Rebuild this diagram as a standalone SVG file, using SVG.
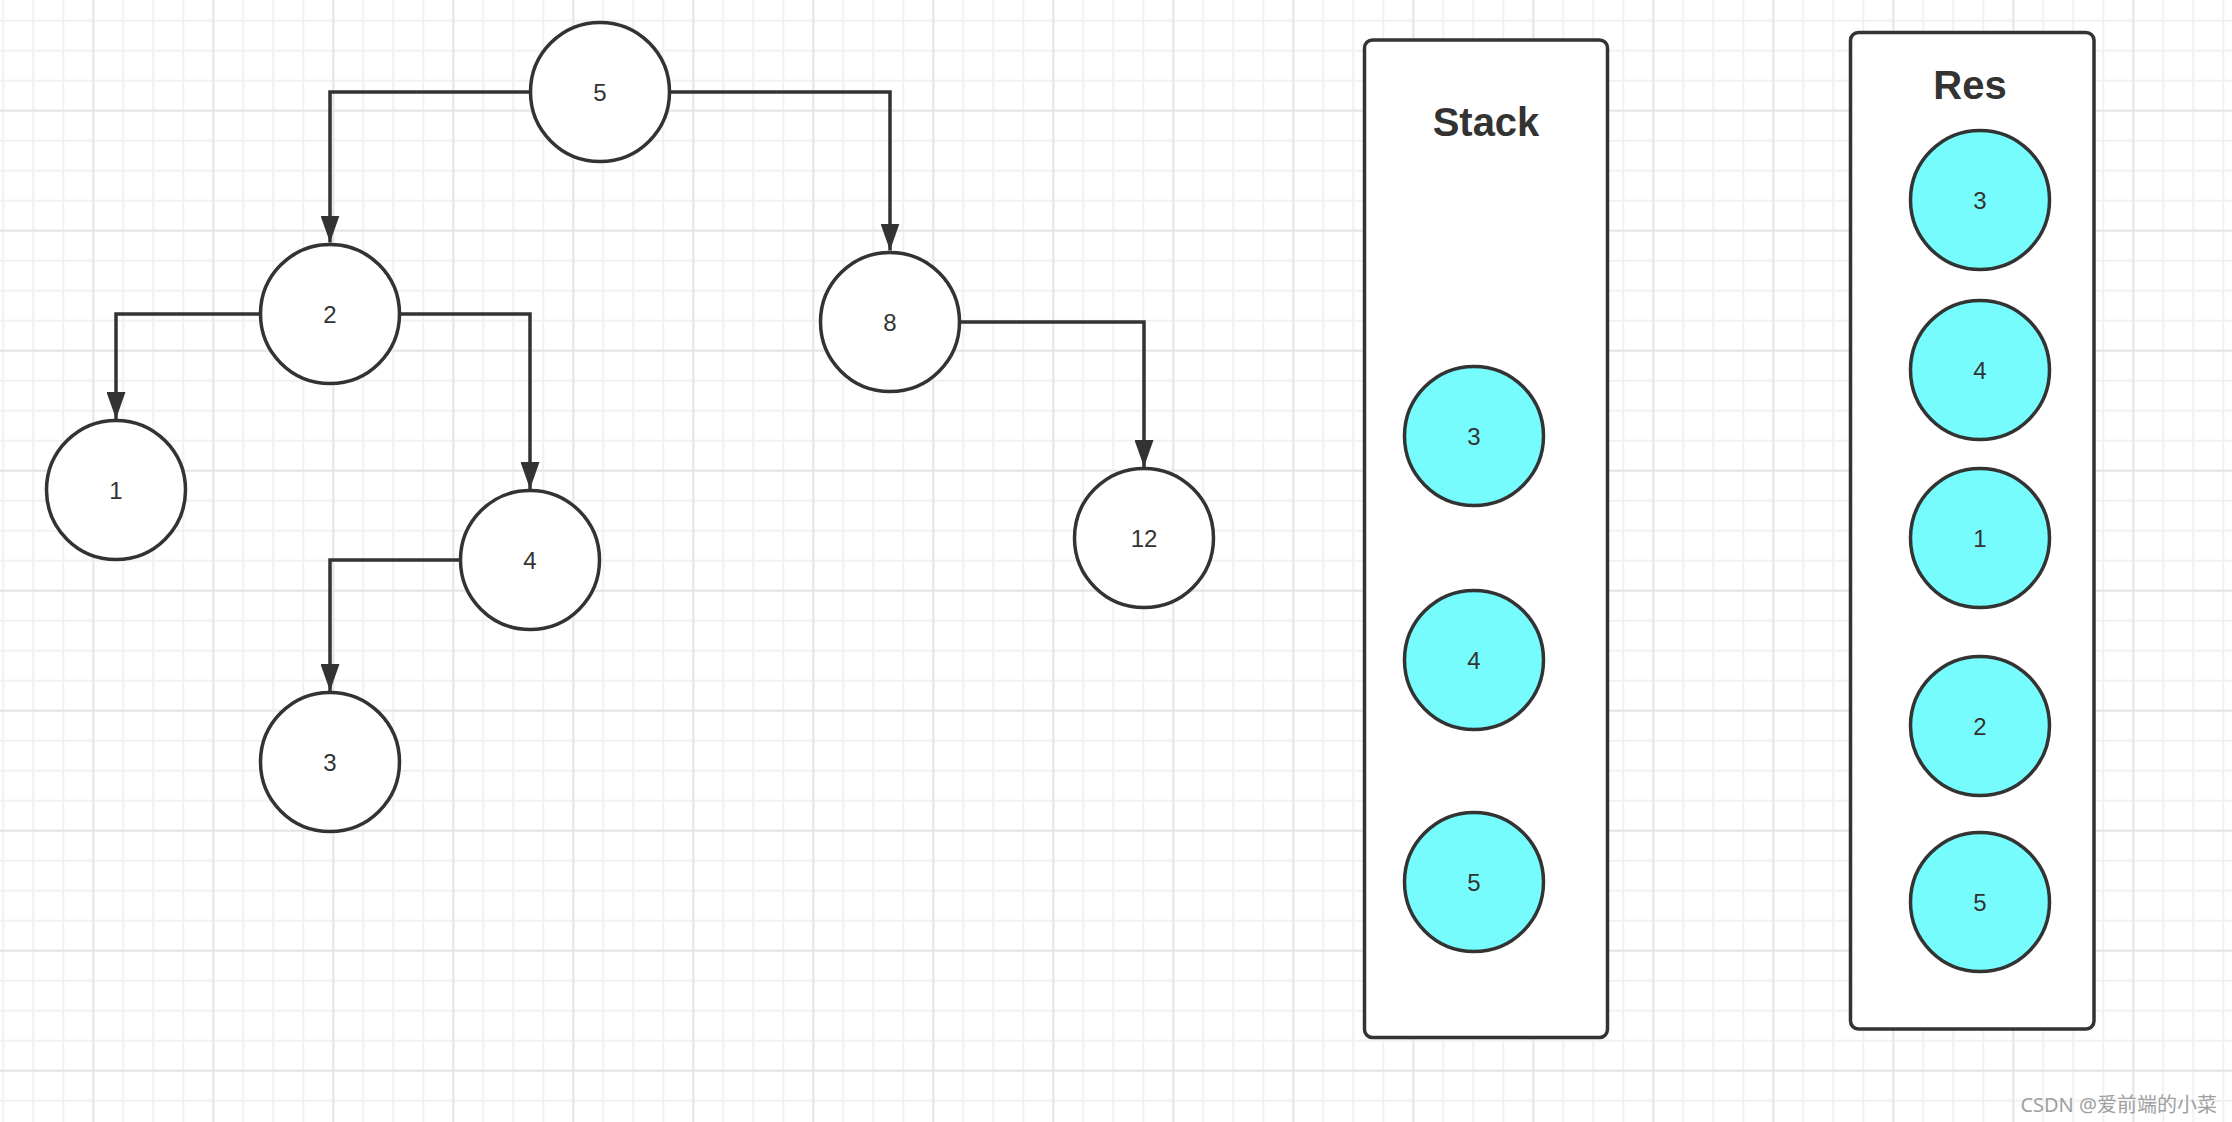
<svg xmlns="http://www.w3.org/2000/svg" width="2232" height="1122" viewBox="0 0 2232 1122">
<style>
.node circle{fill:#ffffff;stroke:#333333;stroke-width:3.5}
.node.hl circle{fill:#76fcfc}
.lbl{font-family:"Liberation Sans",Arial,sans-serif;font-size:24px;fill:#333333;text-anchor:middle}
.title{font-family:"Liberation Sans",Arial,sans-serif;font-size:40px;font-weight:bold;fill:#333333;text-anchor:middle}
.box{fill:#ffffff;stroke:#333333;stroke-width:3.5}
.edge{fill:none;stroke:#333333;stroke-width:3.5;marker-end:url(#arrow)}
.wm{font-family:"Noto Sans","Noto Sans CJK SC",sans-serif;font-size:20px;fill:#a0a0a0;text-anchor:end}
</style>
<defs>
<pattern id="minor" patternUnits="userSpaceOnUse" x="-11.7" y="5.7" width="30" height="30">
<path d="M15,0 V30 M0,15 H30" stroke="#f1f1f1" stroke-width="2" fill="none"/>
</pattern>
<pattern id="major" patternUnits="userSpaceOnUse" x="33.3" y="50.7" width="120" height="120">
<path d="M60,0 V120 M0,60 H120" stroke="#e6e6e6" stroke-width="2" fill="none"/>
</pattern>
<marker id="arrow" markerUnits="userSpaceOnUse" viewBox="0 0 27 19" refX="27" refY="9.5" markerWidth="27" markerHeight="19" orient="auto">
<path d="M0,0 L27,9.5 L0,19 Z" fill="#333333"/>
</marker>
</defs>
<rect width="2232" height="1122" fill="#ffffff"/>
<rect width="2232" height="1122" fill="url(#minor)"/>
<rect width="2232" height="1122" fill="url(#major)"/>

<g id="connectors">
<path class="edge" d="M529,92 H330 V242.5"/>
<path class="edge" d="M671,92 H890 V250.5"/>
<path class="edge" d="M259,314 H116 V419"/>
<path class="edge" d="M401,314 H530 V489"/>
<path class="edge" d="M459,560 H330 V691"/>
<path class="edge" d="M961,322 H1144 V467"/>
</g>

<g id="node-5" class="node"><circle cx="600" cy="92" r="69.5"/><text class="lbl" x="600" y="100.6">5</text></g>
<g id="node-2" class="node"><circle cx="330" cy="314" r="69.5"/><text class="lbl" x="330" y="322.6">2</text></g>
<g id="node-8" class="node"><circle cx="890" cy="322" r="69.5"/><text class="lbl" x="890" y="330.6">8</text></g>
<g id="node-1" class="node"><circle cx="116" cy="490" r="69.5"/><text class="lbl" x="116" y="498.6">1</text></g>
<g id="node-4" class="node"><circle cx="530" cy="560" r="69.5"/><text class="lbl" x="530" y="568.6">4</text></g>
<g id="node-3" class="node"><circle cx="330" cy="762" r="69.5"/><text class="lbl" x="330" y="770.6">3</text></g>
<g id="node-12" class="node"><circle cx="1144" cy="538" r="69.5"/><text class="lbl" x="1144" y="546.6">12</text></g>

<g id="stack">
<rect class="box" x="1364.5" y="40" width="243" height="997.5" rx="8"/>
<text class="title" x="1486" y="136">Stack</text>
</g>
<g id="stack-3" class="node hl"><circle cx="1474" cy="436" r="69.5"/><text class="lbl" x="1474" y="444.6">3</text></g>
<g id="stack-4" class="node hl"><circle cx="1474" cy="660" r="69.5"/><text class="lbl" x="1474" y="668.6">4</text></g>
<g id="stack-5" class="node hl"><circle cx="1474" cy="882" r="69.5"/><text class="lbl" x="1474" y="890.6">5</text></g>

<g id="res">
<rect class="box" x="1850.5" y="32.5" width="243.5" height="996.5" rx="8"/>
<text class="title" x="1970" y="99">Res</text>
</g>
<g id="res-3" class="node hl"><circle cx="1980" cy="200" r="69.5"/><text class="lbl" x="1980" y="208.6">3</text></g>
<g id="res-4" class="node hl"><circle cx="1980" cy="370" r="69.5"/><text class="lbl" x="1980" y="378.6">4</text></g>
<g id="res-1" class="node hl"><circle cx="1980" cy="538" r="69.5"/><text class="lbl" x="1980" y="546.6">1</text></g>
<g id="res-2" class="node hl"><circle cx="1980" cy="726" r="69.5"/><text class="lbl" x="1980" y="734.6">2</text></g>
<g id="res-5" class="node hl"><circle cx="1980" cy="902" r="69.5"/><text class="lbl" x="1980" y="910.6">5</text></g>

<text class="wm" x="2217" y="1112">CSDN @爱前端的小菜</text>
</svg>
